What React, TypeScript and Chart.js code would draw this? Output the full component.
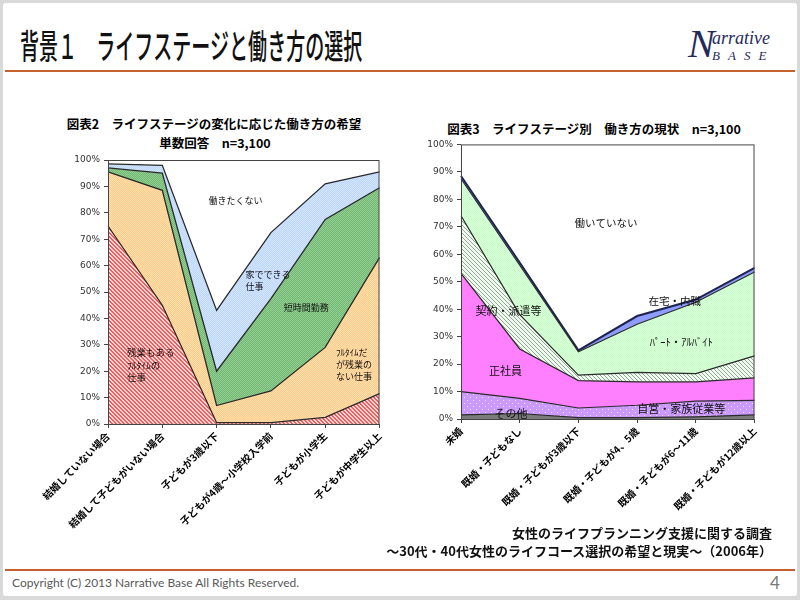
import React, { useEffect, useRef } from "react";
import { Chart, registerables } from "chart.js";
Chart.register(...registerables);

// ---------- Data: 図表2 (希望) ----------
const leftCategories = [
  "結婚していない場合",
  "結婚して子どもがいない場合",
  "子どもが3歳以下",
  "子どもが4歳～小学校入学前",
  "子どもが小学生",
  "子どもが中学生以上",
];
const leftFullTimeOvertime = [75, 45, 0.5, 0.5, 2.5, 11.5]; // 残業もあるフルタイムの仕事
const leftFullTimeNoOvertime = [20.5, 43.5, 6.5, 12, 26.5, 51.5]; // フルタイムだが残業のない仕事
const leftShortHours = [1.5, 6.5, 13, 35, 48.5, 26.5]; // 短時間勤務
const leftHomeWork = [1.5, 3, 23, 25, 13.5, 6]; // 家でできる仕事
const leftNotWork = [1.5, 2, 57, 27.5, 9, 4.5]; // 働きたくない

// ---------- Data: 図表3 (現状) ----------
const rightCategories = [
  "未婚",
  "既婚・子どもなし",
  "既婚・子どもが3歳以下",
  "既婚・子どもが4、5歳",
  "既婚・子どもが6～11歳",
  "既婚・子どもが12歳以上",
];
const rightOther = [1.5, 2, 0.5, 0.5, 0.8, 1.5]; // その他
const rightSelfEmployed = [8.5, 5.5, 3.5, 4.5, 5.7, 5.3]; // 自営・家族従業等
const rightRegular = [43, 18, 10, 8.5, 7, 8.2]; // 正社員
const rightContract = [21, 12.5, 2, 3.5, 3, 8]; // 契約・派遣等
const rightPartTime = [13.5, 18, 8.5, 17.5, 26, 30.5]; // パート・アルバイト
const rightHomeJob = [1, 1, 0.5, 3, 1, 1.5]; // 在宅・内職
const rightNotWorking = [11.5, 43, 75, 62.5, 56.5, 45]; // 働いていない

const yMin = 0;
const yMax = 100;
const yStep = 10;

const JP = "'Noto Sans CJK JP', 'Noto Sans', sans-serif";

function makePattern(w: number, h: number, draw: (c: CanvasRenderingContext2D) => void) {
  const cv = document.createElement("canvas");
  cv.width = w;
  cv.height = h;
  const c = cv.getContext("2d")!;
  draw(c);
  return c.createPattern(cv, "repeat")!;
}

function checker(base: string, alt: string) {
  return makePattern(2, 2, (c) => {
    c.fillStyle = base;
    c.fillRect(0, 0, 2, 2);
    c.fillStyle = alt;
    c.fillRect(0, 0, 1, 1);
    c.fillRect(1, 1, 1, 1);
  });
}

function diagonal(base: string, line: string, size: number, thick: number) {
  return makePattern(size, size, (c) => {
    c.fillStyle = base;
    c.fillRect(0, 0, size, size);
    c.fillStyle = line;
    for (let i = 0; i < size; i++) {
      for (let t = 0; t < thick; t++) c.fillRect((i + t) % size, i, 1, 1);
    }
  });
}

function dots(base: string, dot: string) {
  return makePattern(6, 6, (c) => {
    c.fillStyle = base;
    c.fillRect(0, 0, 6, 6);
    c.fillStyle = dot;
    c.fillRect(1, 1, 1, 1);
    c.fillRect(4, 4, 1, 1);
  });
}

type Lbl = { lines: string[]; x: number; y: number; align: CanvasTextAlign; size: number; lh: number };

function textPlugin(labels: Lbl[]) {
  return {
    id: "txt",
    afterDatasetsDraw(chart: any) {
      const ctx = chart.ctx;
      const xs = chart.scales.x;
      const ys = chart.scales.y;
      ctx.save();
      ctx.fillStyle = "#111";
      ctx.textBaseline = "middle";
      labels.forEach((l) => {
        ctx.font = `${l.size}px ${JP}`;
        ctx.textAlign = l.align;
        const px = xs.getPixelForValue(l.x);
        const py = ys.getPixelForValue(l.y);
        l.lines.forEach((s, i) => ctx.fillText(s, px, py + i * l.lh));
      });
      ctx.restore();
    },
  };
}

const framePlugin = {
  id: "frame",
  afterDatasetsDraw(chart: any) {
    const { left, top, right, bottom } = chart.chartArea;
    const ctx = chart.ctx;
    ctx.save();
    ctx.strokeStyle = "#444";
    ctx.lineWidth = 1;
    ctx.strokeRect(left + 0.5, top + 0.5, right - left - 1, bottom - top);
    ctx.restore();
  },
};

function baseOptions(padLeft: number, padTop: number, padRight: number, yWidth: number, xHeight: number) {
  return {
    responsive: false,
    animation: false as const,
    layout: { padding: { left: padLeft, top: padTop, right: padRight, bottom: 0 } },
    plugins: { legend: { display: false }, tooltip: { enabled: false }, title: { display: false } },
    elements: { point: { radius: 0 }, line: { tension: 0 } },
    scales: {
      x: {
        type: "category" as const,
        offset: false,
        grid: { display: true, drawOnChartArea: false, tickLength: 4, color: "#444" },
        border: { display: false },
        ticks: {
          maxRotation: 45,
          minRotation: 45,
          autoSkip: false,
          color: "#000",
          padding: 2,
          font: { family: JP, size: 10, weight: "bold" as const },
        },
        afterFit: (s: any) => {
          s.height = xHeight;
        },
      },
      y: {
        stacked: true,
        min: yMin,
        max: yMax,
        grid: { display: true, drawOnChartArea: false, tickLength: 4, color: "#444" },
        border: { display: false },
        ticks: {
          stepSize: yStep,
          color: "#333",
          padding: 4,
          font: { family: "'DejaVu Sans', sans-serif", size: 9 },
          callback: (v: any) => v + "%",
        },
        afterFit: (s: any) => {
          s.width = yWidth;
        },
      },
    },
  };
}

function LeftChart() {
  const ref = useRef<HTMLCanvasElement>(null);
  useEffect(() => {
    const edge = "#2a2a2a";
    const series = [
      { label: "残業もあるフルタイムの仕事", data: leftFullTimeOvertime, bg: diagonal("#FFD6D6", "#EE6060", 4, 2), bw: 1.3 },
      { label: "フルタイムだが残業のない仕事", data: leftFullTimeNoOvertime, bg: checker("#FFCB85", "#FFE0B2"), bw: 1.3 },
      { label: "短時間勤務", data: leftShortHours, bg: checker("#6FB86F", "#96CE96"), bw: 1.3 },
      { label: "家でできる仕事", data: leftHomeWork, bg: checker("#BCD7FB", "#D3E5FF"), bw: 1.3 },
      { label: "働きたくない", data: leftNotWork, bg: "#FFFFFF", bw: 0 },
    ];
    const chart = new Chart(ref.current!, {
      type: "line",
      data: {
        labels: leftCategories,
        datasets: series.map((s, i) => ({
          label: s.label,
          data: s.data,
          backgroundColor: s.bg as any,
          borderColor: edge,
          borderWidth: s.bw,
          fill: i === 0 ? "origin" : "-1",
          pointRadius: 0,
        })),
      },
      options: baseOptions(50, 10, 8, 48, 106) as any,
      plugins: [
        textPlugin([
          { lines: ["働きたくない"], x: 2.35, y: 84.5, align: "center", size: 9, lh: 12 },
          { lines: ["家でできる", "仕事"], x: 2.53, y: 56.5, align: "left", size: 9, lh: 12 },
          { lines: ["短時間勤務"], x: 3.65, y: 44, align: "center", size: 9, lh: 12 },
          { lines: ["残業もある", "ﾌﾙﾀｲﾑの", "仕事"], x: 0.35, y: 27, align: "left", size: 9.5, lh: 12.5 },
          { lines: ["ﾌﾙﾀｲﾑだ", "が残業の", "ない仕事"], x: 4.2, y: 27, align: "left", size: 9, lh: 12 },
        ]),
        framePlugin,
      ],
    });
    return () => chart.destroy();
  }, []);
  return (
    <canvas
      ref={ref}
      width={380}
      height={380}
      style={{ position: "absolute", left: 10, top: 150, width: 380, height: 380 }}
    />
  );
}

function RightChart() {
  const ref = useRef<HTMLCanvasElement>(null);
  useEffect(() => {
    const edge = "#2a2a2a";
    const series = [
      { label: "その他", data: rightOther, bg: "#7A7A7A", bc: edge, bw: 1.2 },
      { label: "自営・家族従業等", data: rightSelfEmployed, bg: dots("#CC99FF", "#F2E6FF"), bc: edge, bw: 1.2 },
      { label: "正社員", data: rightRegular, bg: "#FF80FF", bc: edge, bw: 1.2 },
      { label: "契約・派遣等", data: rightContract, bg: diagonal("#F2F8F2", "#8AAE8A", 4, 1), bc: edge, bw: 1.2 },
      { label: "パート・アルバイト", data: rightPartTime, bg: checker("#C6FCC6", "#DAFFDA"), bc: edge, bw: 1.2 },
      { label: "在宅・内職", data: rightHomeJob, bg: "#8C9CFF", bc: "#1E2350", bw: 2 },
      { label: "働いていない", data: rightNotWorking, bg: "#FFFFFF", bc: edge, bw: 0 },
    ];
    const chart = new Chart(ref.current!, {
      type: "line",
      data: {
        labels: rightCategories,
        datasets: series.map((s, i) => ({
          label: s.label,
          data: s.data,
          backgroundColor: s.bg as any,
          borderColor: s.bc,
          borderWidth: s.bw,
          fill: i === 0 ? "origin" : "-1",
          pointRadius: 0,
        })),
      },
      options: baseOptions(20, 8, 9, 41, 96) as any,
      plugins: [
        textPlugin([
          { lines: ["働いていない"], x: 2.47, y: 71.5, align: "center", size: 10.5, lh: 12 },
          { lines: ["在宅・内職"], x: 3.64, y: 43, align: "center", size: 10.5, lh: 12 },
          { lines: ["ﾊﾟｰﾄ・ｱﾙﾊﾞｲﾄ"], x: 3.75, y: 28, align: "center", size: 10.5, lh: 12 },
          { lines: ["契約・派遣等"], x: 0.81, y: 39.5, align: "center", size: 11, lh: 12 },
          { lines: ["正社員"], x: 0.76, y: 17.5, align: "center", size: 11, lh: 12 },
          { lines: ["自営・家族従業等"], x: 3.75, y: 3.7, align: "center", size: 11, lh: 12 },
          { lines: ["その他"], x: 0.85, y: 1.8, align: "center", size: 11, lh: 12 },
        ]),
        framePlugin,
      ],
    });
    return () => chart.destroy();
  }, []);
  return (
    <canvas
      ref={ref}
      width={365}
      height={380}
      style={{ position: "absolute", left: 400, top: 135, width: 365, height: 380 }}
    />
  );
}

export default function App() {
  const orange = "#C5602F";
  return (
    <div style={{ position: "fixed", left: 0, top: 0, width: 800, height: 600, background: "#D9D9D9", overflow: "hidden" }}>
      <div style={{ position: "absolute", left: 3, top: 3, width: 794, height: 593, background: "#FFFFFF", borderRadius: 3 }} />
      {/* Title */}
      <div
        style={{
          position: "absolute",
          left: 20,
          top: 24,
          fontFamily: JP,
          fontSize: 34,
          fontWeight: 500,
          lineHeight: "42px",
          whiteSpace: "nowrap",
          color: "#111",
          transform: "scaleX(0.56)",
          transformOrigin: "left center",
        }}
      >
        背景１　ライフステージと働き方の選択
      </div>
      {/* Logo */}
      <div style={{ position: "absolute", left: 688, top: 22, color: "#1F2B5C", fontFamily: "'Liberation Serif', 'DejaVu Serif', serif", fontStyle: "italic" }}>
        <span style={{ position: "absolute", left: 0, top: 0, fontSize: 40, lineHeight: "44px" }}>N</span>
        <span style={{ position: "absolute", left: 24, top: 6, fontSize: 18, lineHeight: "20px", whiteSpace: "nowrap" }}>arrative</span>
        <span style={{ position: "absolute", left: 24, top: 27, fontSize: 13, lineHeight: "14px", letterSpacing: 8, whiteSpace: "nowrap" }}>BASE</span>
      </div>
      <div style={{ position: "absolute", left: 5, top: 70, width: 790, height: 2, background: orange }} />

      {/* Chart titles */}
      <div style={{ position: "absolute", left: 14, width: 400, top: 116, textAlign: "center", fontFamily: JP, fontSize: 12.5, fontWeight: 700, lineHeight: "16px", whiteSpace: "nowrap" }}>
        図表2　ライフステージの変化に応じた働き方の希望
      </div>
      <div style={{ position: "absolute", left: 15, width: 400, top: 135, textAlign: "center", fontFamily: JP, fontSize: 12.5, fontWeight: 700, lineHeight: "16px", whiteSpace: "nowrap" }}>
        単数回答　n=3,100
      </div>
      <div style={{ position: "absolute", left: 394, width: 400, top: 121, textAlign: "center", fontFamily: JP, fontSize: 12.5, fontWeight: 700, lineHeight: "16px", whiteSpace: "nowrap" }}>
        図表3　ライフステージ別　働き方の現状　n=3,100
      </div>

      <LeftChart />
      <RightChart />

      {/* Source */}
      <div style={{ position: "absolute", right: 28, top: 524, textAlign: "right", fontFamily: JP, fontSize: 13, fontWeight: 700, lineHeight: "18px", whiteSpace: "nowrap", color: "#111" }}>
        女性のライフプランニング支援に関する調査
        <br />
        ～30代・40代女性のライフコース選択の希望と現実～（2006年）
      </div>
      <div style={{ position: "absolute", left: 5, top: 569, width: 790, height: 2, background: orange }} />
      <div style={{ position: "absolute", left: 12, top: 575, fontFamily: "Lato, 'Open Sans', sans-serif", fontSize: 12, lineHeight: "16px", color: "#595959", whiteSpace: "nowrap" }}>
        Copyright (C) 2013 Narrative Base All Rights Reserved.
      </div>
      <div style={{ position: "absolute", left: 770, top: 573, fontFamily: "Lato, 'Open Sans', sans-serif", fontSize: 17, lineHeight: "20px", color: "#777" }}>
        4
      </div>
    </div>
  );
}
